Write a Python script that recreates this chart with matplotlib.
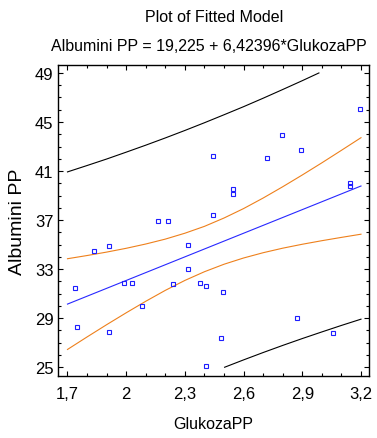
import matplotlib
matplotlib.use("Agg")
import matplotlib.pyplot as plt
from matplotlib.ticker import MultipleLocator

plt.rcParams['font.family'] = ['Liberation Sans', 'DejaVu Sans']

glukoza = [1.740, 1.748, 1.833, 1.913, 1.913, 1.989, 2.031, 2.082, 2.162, 2.212,
           2.240, 2.316, 2.316, 2.379, 2.409, 2.408, 2.446, 2.446, 2.487, 2.497,
           2.548, 2.548, 2.719, 2.797, 2.875, 2.891, 3.057, 3.146, 3.146, 3.196]
albumini = [31.5, 28.3, 34.44, 34.88, 27.9, 31.86, 31.86, 30.0, 36.9, 36.9,
            31.8, 34.96, 33.0, 31.86, 31.6, 25.08, 42.2, 37.4, 27.4, 31.15,
            39.5, 39.1, 42.1, 43.9, 29.0, 42.7, 27.8, 40.0, 39.8, 46.06]

# fitted line end points
fit_x = [1.7, 3.2]
fit_y = [30.15, 39.78]

# confidence limits (orange)
band_x = [1.7, 1.8, 1.9, 2.0, 2.1, 2.2, 2.3, 2.4, 2.5, 2.6, 2.7, 2.8, 2.9, 3.0, 3.1, 3.2]
conf_hi = [33.85, 34.11, 34.39, 34.70, 35.05, 35.45, 35.93, 36.49, 37.17, 37.94,
           38.80, 39.72, 40.68, 41.67, 42.69, 43.72]
conf_lo = [26.45, 27.47, 28.47, 29.44, 30.38, 31.27, 32.08, 32.79, 33.40, 33.91,
           34.34, 34.71, 35.03, 35.32, 35.59, 35.85]

# prediction limits (black), clipped to 25..49
pred_hi_x = [1.7, 1.8, 1.9, 2.0, 2.1, 2.2, 2.3, 2.4, 2.5, 2.6, 2.7, 2.8, 2.9, 2.985]
pred_hi = [40.93, 41.45, 41.98, 42.54, 43.11, 43.70, 44.31, 44.94, 45.59, 46.25,
           46.94, 47.65, 48.37, 49.0]
pred_lo_x = [2.503, 2.6, 2.7, 2.8, 2.9, 3.0, 3.1, 3.2]
pred_lo = [25.0, 25.60, 26.20, 26.78, 27.34, 27.88, 28.41, 28.92]

xticks = [1.7, 2.0, 2.3, 2.6, 2.9, 3.2]
xtick_labels = ['1,7', '2', '2,3', '2,6', '2,9', '3,2']
yticks = [25, 29, 33, 37, 41, 45, 49]

fig = plt.figure(figsize=(3.77, 4.39), dpi=100)
ax = fig.add_axes([0.1546, 0.1419, 0.8242, 0.7078])

orange = '#EE801C'
ax.plot(pred_hi_x, pred_hi, color='black', lw=0.8)
ax.plot(pred_lo_x, pred_lo, color='black', lw=0.8)
ax.plot(band_x, conf_hi, color=orange, lw=0.8)
ax.plot(band_x, conf_lo, color=orange, lw=0.8)
ax.plot(fit_x, fit_y, color='#2828FF', lw=0.8)
ax.plot(glukoza, albumini, ls='none', marker='s', ms=3.4, mfc='none',
        mec='#1E1EFF', mew=0.8)

ax.set_xlim(1.653, 3.241)
ax.set_ylim(24.31, 49.65)
ax.set_xticks(xticks)
ax.set_xticklabels(xtick_labels)
ax.set_yticks(yticks)
ax.xaxis.set_minor_locator(MultipleLocator(0.1))
ax.yaxis.set_minor_locator(MultipleLocator(1))
ax.tick_params(which='both', direction='in', top=True, right=True,
               width=0.8, labelsize=12)
ax.tick_params(which='major', length=3.6)
ax.tick_params(which='minor', length=1.9)
ax.tick_params(axis='x', pad=7.5)
ax.tick_params(axis='y', pad=3.5)
for sp in ax.spines.values():
    sp.set_linewidth(1.0)

ax.set_xlabel('GlukozaPP', fontsize=11.5, labelpad=11)
ax.set_ylabel('Albumini PP', fontsize=14, labelpad=6)

fig.text(0.569, 0.961, 'Plot of Fitted Model', ha='center', va='center', fontsize=11.5)
fig.text(0.553, 0.893, 'Albumini PP = 19,225 + 6,42396*GlukozaPP',
         ha='center', va='center', fontsize=11.5)

fig.savefig('out.png', dpi=100)
